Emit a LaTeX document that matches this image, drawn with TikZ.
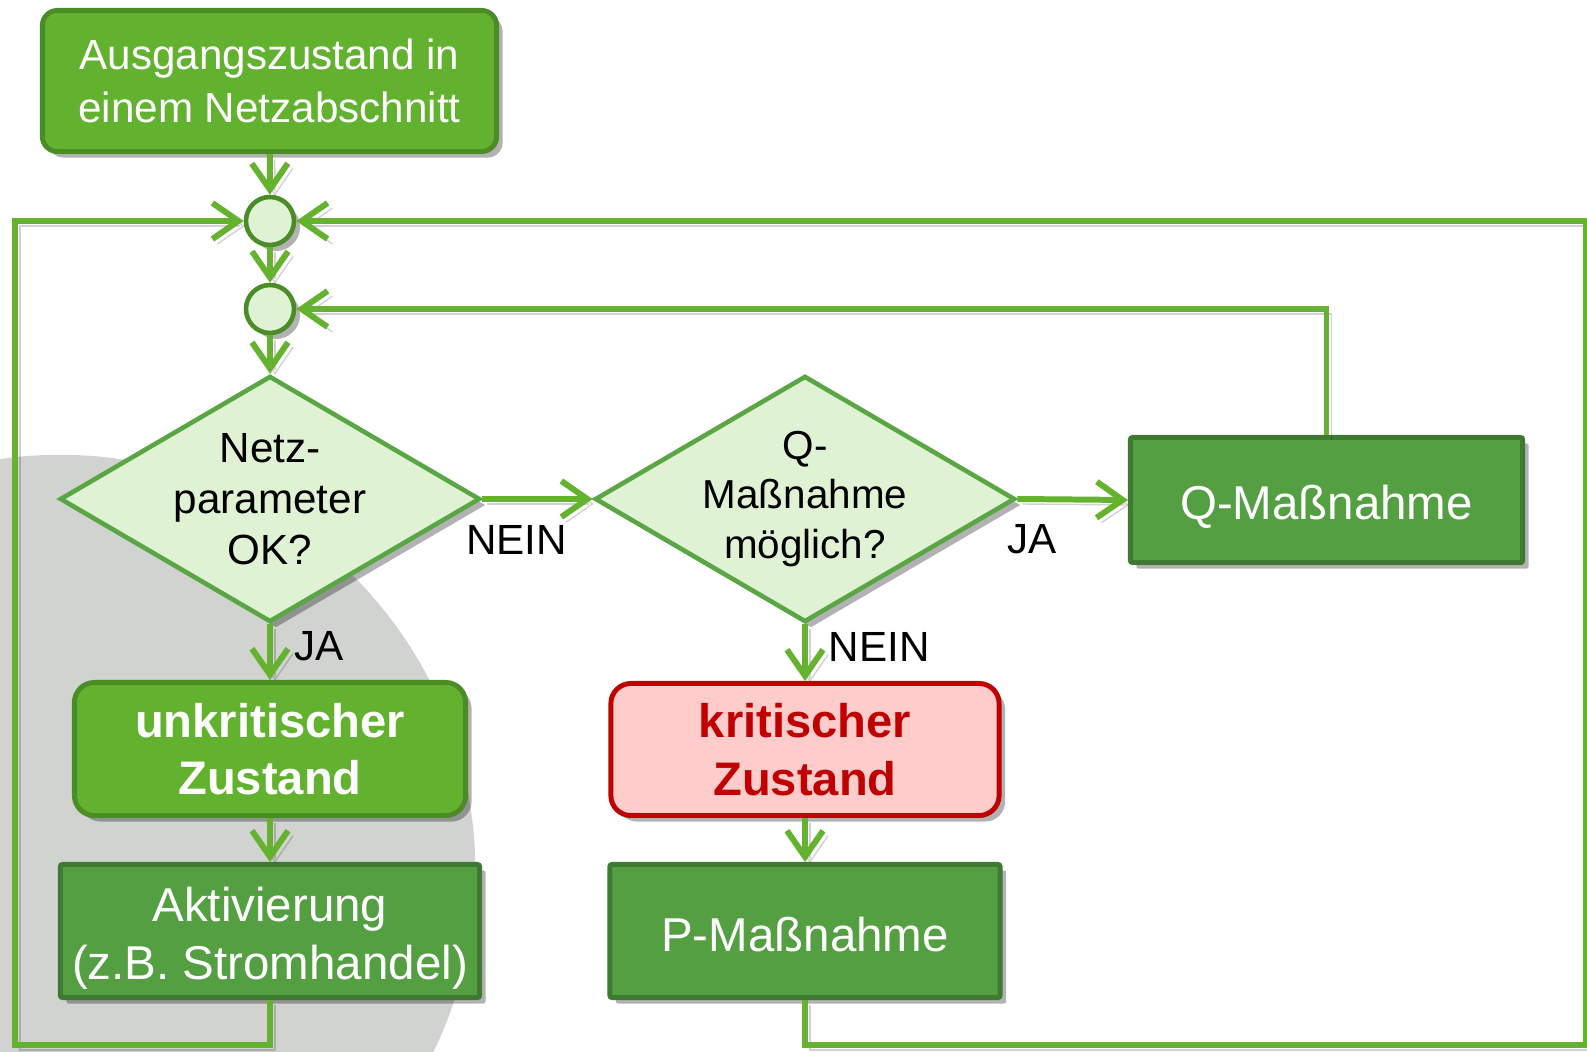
\documentclass[tikz,border=0pt]{standalone}
\usepackage{fontspec}
\setmainfont{Liberation Sans}
\usetikzlibrary{arrows.meta,shapes.geometric,shadows}

\definecolor{stategreen}{HTML}{63B22F}
\definecolor{stateline}{HTML}{4C8C27}
\definecolor{actiongreen}{HTML}{559F43}
\definecolor{actionline}{HTML}{3E7A31}
\definecolor{palegreen}{HTML}{DFF2D3}
\definecolor{diamondline}{HTML}{5AA544}
\definecolor{flowgreen}{HTML}{64B22E}
\definecolor{critred}{HTML}{C00000}
\definecolor{critfill}{HTML}{FFCCCC}
\definecolor{bggrey}{HTML}{D0D3CF}

\newcommand{\sinktext}[1]{\raisebox{-2pt}[\height][\depth]{#1}}

\tikzset{
	boxshadow/.style={drop shadow={shadow xshift=0.6mm,shadow yshift=-0.6mm,opacity=0.3,fill=black}},
	statebox/.style={draw=stateline, fill=stategreen, line width=1.4pt, text=white, align=center, boxshadow},
	actionbox/.style={draw=actionline, fill=actiongreen, line width=1.4pt, rounded corners=0.6pt, text=white, align=center, boxshadow, font=\fontsize{13.5}{16.4}\selectfont},
	critbox/.style={draw=critred, fill=critfill, line width=1.4pt, rounded corners=2mm, text=critred, align=center, boxshadow, font=\fontsize{13.4}{16.4}\selectfont\bfseries},
	decision/.style={diamond, draw=diamondline, fill=palegreen, line width=1.3pt, aspect=1.72, inner sep=-2pt, minimum width=4.2cm, minimum height=2.46cm, align=center, boxshadow},
	junction/.style={circle, draw=stateline, fill=palegreen, line width=1.3pt, minimum size=0.48cm, inner sep=0pt, boxshadow},
	flowline/.style={draw=flowgreen, line width=1.7pt, preaction={draw=black, opacity=0.18, transform canvas={shift={(0.5mm,-0.5mm)}}}},
	flow/.style={flowline, -{Straight Barb[length=2.6mm,width=3.6mm]}},
	answer/.style={text=black, font=\fontsize{12}{14}\selectfont}
}

\begin{document}
\begin{tikzpicture}[x=0.01cm, y=-0.01cm]
			%%%%% START %%%%%
			\useasboundingbox (0, 0) rectangle (1587, 1052);
			\fill[bggrey] (60, 870) circle (4.15cm);
			
			\node[statebox, rounded corners=1.5mm, minimum width=4.54cm, minimum height=1.41cm, font=\fontsize{12}{15}\selectfont] (start) at (269.5, 81) {Ausgangszustand in\\einem Netzabschnitt};
			
			\node[junction] (join1) at (270, 221) {};
			\node[junction] (join2) at (270, 309) {};
			
			\node[decision, font=\fontsize{12}{14.5}\selectfont] (netzok) at (270, 499) {Netz-\\parameter\\OK?};
			\node[decision, font=\fontsize{11.5}{14}\selectfont] (qok) at (805, 499) {Q-\\Maßnahme\\möglich?};
			
			\node[actionbox, minimum width=3.92cm, minimum height=1.25cm] (qmass) at (1326.5, 500) {\sinktext{Q-Maßnahme}};
			
			\node[statebox, rounded corners=2mm, minimum width=3.91cm, minimum height=1.33cm, font=\fontsize{13.4}{16.4}\selectfont\bfseries] (unkrit) at (270, 749) {unkritischer\\Zustand};
			\node[critbox, minimum width=3.88cm, minimum height=1.32cm] (krit) at (805, 749.5) {kritischer\\Zustand};
			
			\node[actionbox, minimum width=4.15cm, minimum height=1.33cm] (aktiv) at (270, 931) {\sinktext{Aktivierung}\\\sinktext{(z.B. Stromhandel)}};
			\node[actionbox, minimum width=3.9cm, minimum height=1.33cm] (pmass) at (805, 931) {\raisebox{-1pt}[\height][\depth]{P-Maßnahme}};
			
			\coordinate (leftbottom) at (15, 1045);
			\coordinate (rightbottom) at (1586, 1045);
			
			% main flow
			\draw[flow] (start) -- (join1);
			\draw[flow] (join1) -- (join2);
			\draw[flow] (join2) -- (netzok);
			\draw[flow] (netzok.east) -- node[answer, pos=0.31, below=1.2mm] (nein1) {NEIN} (qok.west);
			\draw[flow] (qok.east) -- node[answer, pos=0.13, below=1.1mm] (ja2) {JA} (qmass.west);
			\draw[flow] (netzok.south) -- node[answer, pos=0.39, right=1mm] (ja1) {JA} (unkrit.north);
			\draw[flow] (qok.south) -- node[answer, pos=0.4, right=0.9mm] (nein2) {NEIN} (krit.north);
			\draw[flow] (unkrit) -- (aktiv);
			\draw[flow] (krit) -- (pmass);
			
			% loops back
			\draw[flow] (qmass.north) |- (join2.east);
			\draw[flow] (aktiv.south) |- (leftbottom) |- (join1.west);
			\draw[flow] (pmass.south) |- (rightbottom) |- (join1.east);
			
			%%%%% END %%%%%
\end{tikzpicture}
\end{document}
